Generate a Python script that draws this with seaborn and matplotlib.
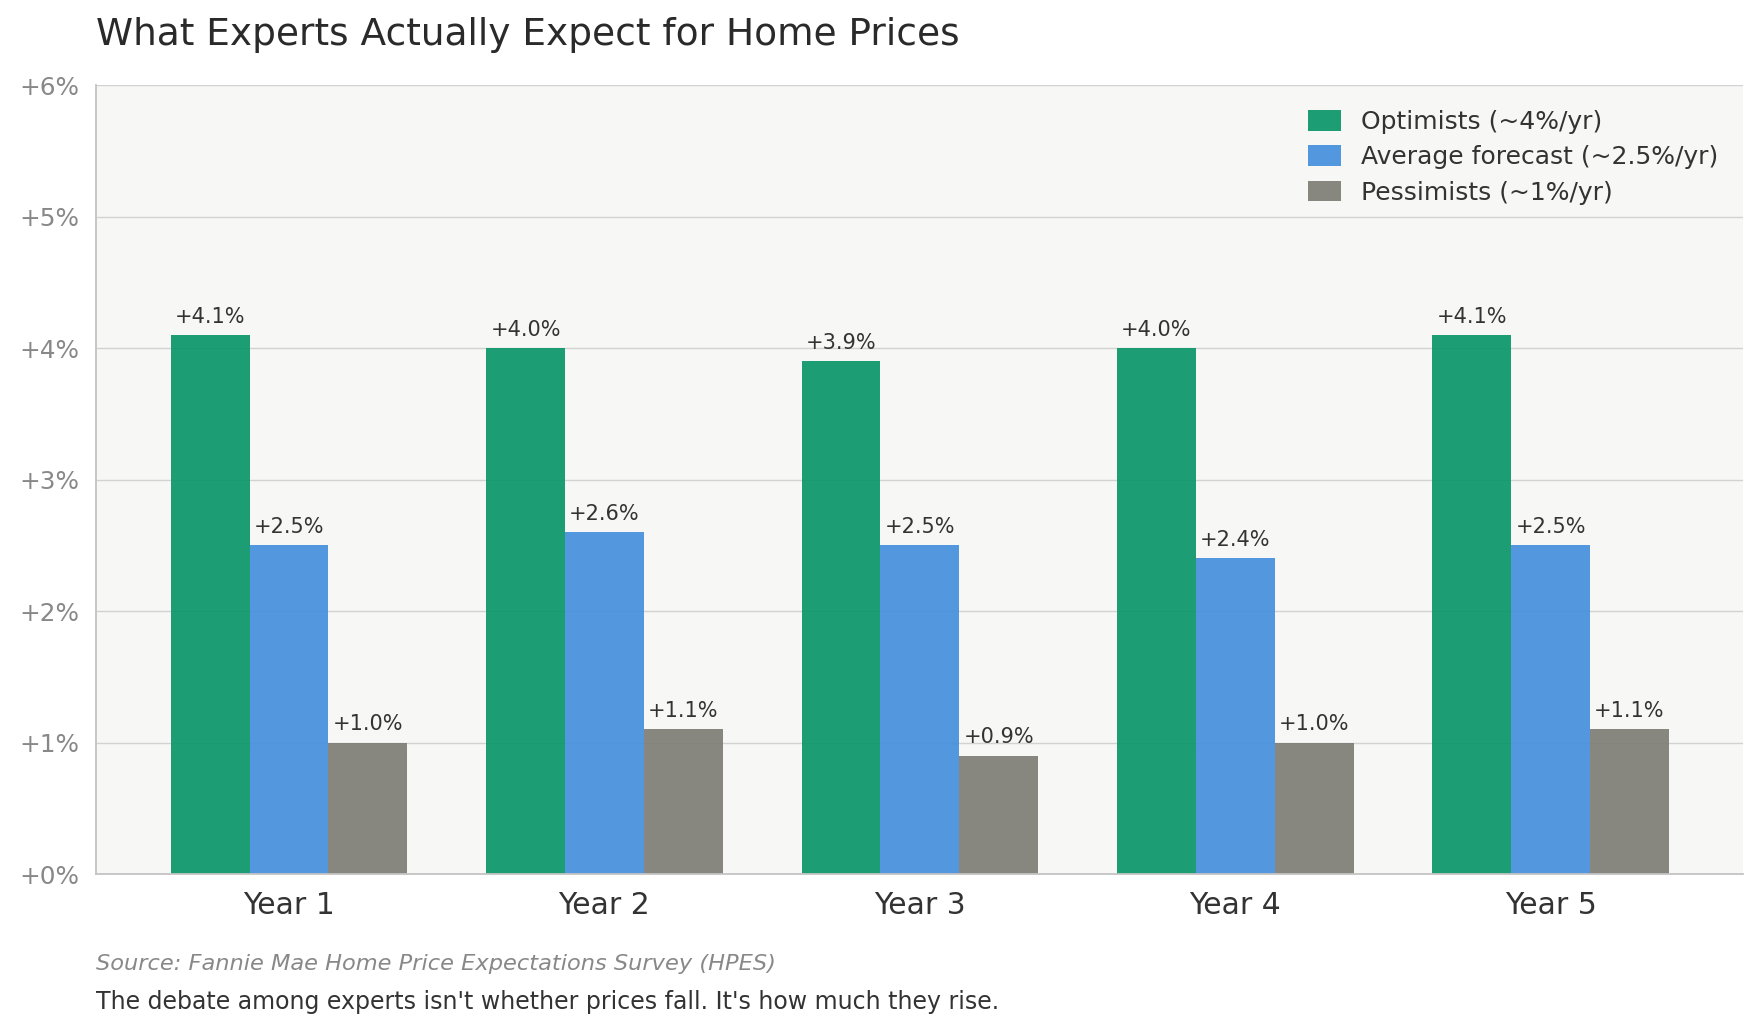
import matplotlib
matplotlib.use("Agg")
import matplotlib.pyplot as plt
from matplotlib.ticker import FuncFormatter
import seaborn as sns
import pandas as pd

years = ["Year 1", "Year 2", "Year 3", "Year 4", "Year 5"]
series_names = ["Optimists (~4%/yr)", "Average forecast (~2.5%/yr)", "Pessimists (~1%/yr)"]
optimists = [4.1, 4.0, 3.9, 4.0, 4.1]
average = [2.5, 2.6, 2.5, 2.4, 2.5]
pessimists = [1.0, 1.1, 0.9, 1.0, 1.1]
colors = ["#0a9669", "#4590dc", "#7e7e76"]

rows = []
for name, vals in zip(series_names, [optimists, average, pessimists]):
    for y, v in zip(years, vals):
        rows.append({"year": y, "series": name, "value": v})
df = pd.DataFrame(rows)

sns.set_style("white")
plt.rcParams["font.family"] = ["DejaVu Sans"]

fig = plt.figure(figsize=(17.61, 10.32), dpi=100)
ax = fig.add_axes([0.0545, 0.1531, 0.9353, 0.7645])
ax.set_facecolor("#f7f7f5")

sns.barplot(data=df, x="year", y="value", hue="series", order=years,
            hue_order=series_names, palette=colors, width=0.75,
            alpha=0.92, saturation=1, linewidth=0, edgecolor="none",
            ax=ax, zorder=2)

for cont, vals in zip(ax.containers, [optimists, average, pessimists]):
    ax.bar_label(cont, labels=[f"+{v:.1f}%" for v in vals], padding=6,
                 fontsize=15, color="#333333")

ax.set_ylim(0, 6)
ax.set_xlim(-0.612, 4.61)
ax.yaxis.set_major_formatter(FuncFormatter(lambda v, p: f"+{v:.0f}%"))
ax.grid(axis="y", color="#d2d2d2", linewidth=1.0, zorder=0)
ax.set_axisbelow(True)
for s in ["top", "right"]:
    ax.spines[s].set_visible(False)
for s in ["left", "bottom"]:
    ax.spines[s].set_color("#c4c4c4")
    ax.spines[s].set_linewidth(1.3)
ax.tick_params(axis="y", length=5, color="#888888", labelsize=17.8,
               labelcolor="#888888", pad=7)
ax.tick_params(axis="x", length=0, labelsize=21.5, labelcolor="#333333", pad=12)
ax.set_xlabel("")
ax.set_ylabel("")

leg = ax.legend(loc="upper right", frameon=False, fontsize=18,
                handlelength=1.3, handleheight=0.9, labelspacing=0.45,
                handletextpad=0.8, borderaxespad=0.6)
for t in leg.get_texts():
    t.set_color("#333333")

fig.text(0.0545, 0.966, "What Experts Actually Expect for Home Prices",
         fontsize=27, color="#2a2a2a", ha="left", va="center")
fig.text(0.0545, 0.066, "Source: Fannie Mae Home Price Expectations Survey (HPES)",
         fontsize=16.2, color="#888888", style="italic", ha="left", va="center")
fig.text(0.0545, 0.029, "The debate among experts isn't whether prices fall. It's how much they rise.",
         fontsize=17, color="#333333", ha="left", va="center")

fig.savefig("out.png", dpi=100, facecolor="white")
